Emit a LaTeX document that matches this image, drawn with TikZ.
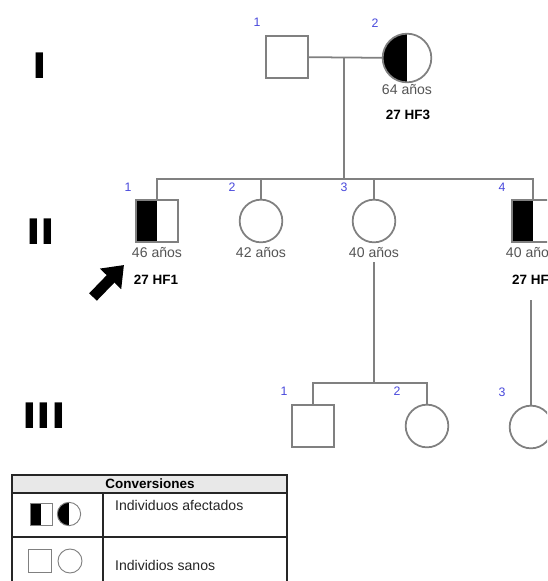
\documentclass[tikz,border=0pt]{standalone}
\usepackage{fontspec}
\setmainfont{Liberation Sans}
\newfontfamily\genfont{DejaVu Sans}
\usetikzlibrary{arrows.meta, positioning, calc}
\definecolor{pedgray}{RGB}{128,128,128}
\definecolor{numblue}{RGB}{72,72,220}
\definecolor{agegray}{RGB}{85,85,85}
\definecolor{headgray}{RGB}{232,232,232}

\begin{document}
\begin{tikzpicture}[
  x=0.03cm, y=-0.03cm,
  male/.style={rectangle, draw=pedgray, line width=1.5pt, fill=white,
               minimum size=1.26cm, inner sep=0pt},
  female/.style={circle, draw=pedgray, line width=1.5pt, fill=white,
                 minimum size=1.28cm, inner sep=0pt},
  affected/.style={path picture={\fill[black] (path picture bounding box.south west)
                   rectangle (path picture bounding box.north);}},
  line/.style={draw=pedgray, line width=1.5pt},
  num/.style={font=\fontsize{10.5}{12}\selectfont, text=numblue},
  age/.style={font=\fontsize{12}{14}\selectfont, text=agegray},
  code/.style={font=\fontsize{11.5}{13}\selectfont\bfseries},
  gen/.style={font=\genfont\fontsize{30}{32}\selectfont\bfseries,
              xscale=1.12, transform shape},
  legtxt/.style={font=\fontsize{12}{14}\selectfont, text=black!85, anchor=west},
  probarrow/.style={line width=0.32cm, -{Triangle[length=0.58cm, width=0.85cm]}}
]
  %% -- frame
  \useasboundingbox (0,0) rectangle (547,581);
  \clip (0,0) rectangle (547,581);
  \fill[white] (0,0) rectangle (547,581);

  %% Generations
  \node[gen] (gI)   at (40,66)  {I};
  \node[gen] (gII)  at (41,232) {II};
  \node[gen] (gIII) at (44,416) {III};

  %% Generation I
  \node[male] (i1) at (287,57) {};
  \node[female, affected, minimum size=1.46cm] (i2) at (407,58) {};
  \node[num] at (257,22) {1};
  \node[num] at (375,23) {2};
  \node[age]  (age12)  at (407,90)  {64 años};
  \node[code] (code12) at (408,115) {27 HF3};

  \coordinate (mI) at (344,57);
  \coordinate (sibII) at (344,179);
  \draw[line] (i1) -- (i2);
  \draw[line] (mI) -- (sibII);

  %% Generation II
  \node[male, affected]   (ii1) at (157,221) {};
  \node[female]           (ii2) at (261,221) {};
  \node[female]           (ii3) at (374,221) {};
  \node[male, affected]   (ii4) at (533,221) {};
  \node[num] at (128,187) {1};
  \node[num] at (232,187) {2};
  \node[num] at (344,187) {3};
  \node[num] at (502,187) {4};
  \node[age] (age21) at (157,253) {46 años};
  \node[age] (age22) at (261,253) {42 años};
  \node[age] (age23) at (374,253) {40 años};
  \node[age] (age24) at (531,253) {40 años};
  \node[code] (code21) at (156,280) {27 HF1};
  \node[code, anchor=west] (code24) at (508,280) {27 HF};

  \draw[line] (ii1.north) |- (sibII) -| (ii4.north);
  \draw[line] (ii2.north) -- (ii2.north |- sibII);
  \draw[line] (ii3.north) -- (ii3.north |- sibII);

  %% Proband
  \coordinate (pbtail) at (93,297);
  \coordinate (pbtip)  at (124,265);
  \draw[probarrow] (pbtail) -- (pbtip);

  %% Generation III
  \node[male]   (iii1) at (313,426) {};
  \node[female] (iii2) at (427,426) {};
  \node[female] (iii3) at (531,427) {};
  \node[num] at (284,391) {1};
  \node[num] at (397,391) {2};
  \node[num] at (502,392) {3};

  \coordinate (sibIII) at (374,383);
  \coordinate (d4) at (531,300);
  \draw[line] (374,262) -- (sibIII);
  \draw[line] (iii1.north) |- (sibIII) -| (iii2.north);
  \draw[line] (d4) -- (iii3.north);

  %% -- Legend
  \fill[headgray] (12,475) rectangle (287,493);
  \draw[black!85, line width=0.9pt] (12,475) rectangle (287,600);
  \draw[black!85, line width=0.9pt] (12,493) -- (287,493);
  \draw[black!85, line width=0.9pt] (12,537) -- (287,537);
  \draw[black!85, line width=0.9pt] (103,493) -- (103,600);
  \node[font=\fontsize{11.5}{13}\selectfont\bfseries] (conv) at (150,484) {Conversiones};

  \node[male, affected, minimum size=0.66cm, line width=0.8pt]   (lgm1) at (41,514) {};
  \node[female, affected, minimum size=0.7cm, line width=0.8pt]  (lgf1) at (69,514) {};
  \node[male, minimum size=0.68cm, line width=0.8pt]             (lgm2) at (40,561) {};
  \node[female, minimum size=0.72cm, line width=0.8pt]           (lgf2) at (70,561) {};
  \node[legtxt] (leg1) at (111,505) {Individuos afectados};
  \node[legtxt] (leg2) at (111,565) {Individios sanos};

\end{tikzpicture}
\end{document}
